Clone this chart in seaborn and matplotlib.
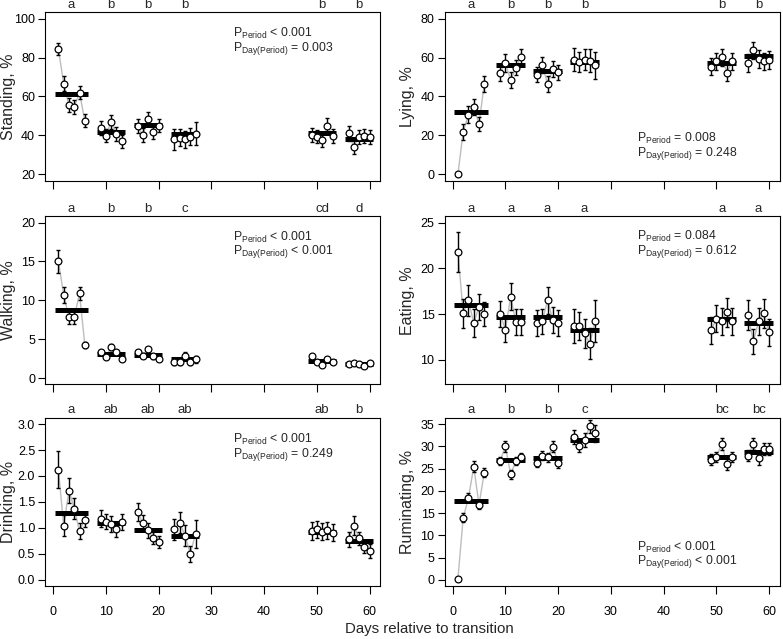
import matplotlib
matplotlib.use("Agg")
import matplotlib.pyplot as plt
import matplotlib.transforms as mtransforms
import seaborn as sns
import pandas as pd

# days of measurement and the period each day belongs to
days = [1, 2, 3, 4, 5, 6, 9, 10, 11, 12, 13, 16, 17, 18, 19, 20,
        23, 24, 25, 26, 27, 49, 50, 51, 52, 53, 56, 57, 58, 59, 60]
period = [1, 1, 1, 1, 1, 1, 2, 2, 2, 2, 2, 3, 3, 3, 3, 3,
          4, 4, 4, 4, 4, 5, 5, 5, 5, 5, 6, 6, 6, 6, 6]

standing = [84.4, 66.5, 55.4, 54.7, 61.9, 47.6,
            43.7, 39.9, 47.1, 40.8, 37.0,
            44.7, 40.2, 48.6, 41.9, 45.0,
            37.9, 38.9, 38.0, 39.4, 40.9,
            40.2, 39.4, 37.7, 44.9, 39.7,
            41.1, 34.2, 39.4, 39.7, 39.4]
standing_se = [3.1, 3.8, 3.6, 3.6, 3.3, 3.4,
               3.5, 3.5, 3.6, 3.5, 3.4,
               3.5, 3.5, 3.6, 3.5, 3.5,
               5.2, 4.5, 4.5, 4.5, 6.0,
               3.5, 3.5, 3.6, 3.8, 3.6,
               3.9, 3.6, 3.6, 3.8, 3.6]
standing_period = [61.2, 42.0, 45.1, 40.9, 41.1, 38.0]
standing_letters = ["a", "b", "b", "b", "b", "b"]

lying = [0.0, 21.8, 30.7, 34.7, 25.9, 46.5,
         52.0, 57.2, 48.4, 54.9, 60.3,
         51.2, 56.3, 46.4, 54.2, 52.4,
         58.9, 57.7, 58.9, 58.4, 56.1,
         55.4, 58.0, 60.1, 52.3, 58.0,
         57.2, 63.7, 59.2, 58.0, 58.8]
lying_se = [0.0, 4.0, 4.3, 4.2, 3.5, 4.1,
            4.2, 4.4, 4.0, 4.0, 4.0,
            4.0, 4.0, 4.0, 4.0, 4.0,
            6.0, 5.0, 5.5, 6.0, 7.0,
            4.5, 4.5, 4.5, 4.5, 4.5,
            4.5, 4.5, 4.5, 4.5, 4.5]
lying_period = [31.9, 56.3, 53.0, 57.7, 57.2, 60.9]
lying_letters = ["a", "b", "b", "b", "b", "b"]

walking = [15.0, 10.7, 7.8, 7.8, 10.9, 4.3,
           3.3, 2.7, 4.0, 3.3, 2.5,
           3.3, 2.9, 3.7, 2.8, 2.5,
           2.1, 2.1, 2.8, 2.1, 2.4,
           2.8, 2.1, 1.75, 2.4, 2.1,
           1.8, 1.95, 1.8, 1.6, 2.0]
walking_se = [1.5, 1.0, 0.8, 0.8, 0.8, 0.4,
              0.3, 0.3, 0.35, 0.3, 0.3,
              0.3, 0.3, 0.35, 0.3, 0.3,
              0.45, 0.4, 0.5, 0.45, 0.5,
              0.3, 0.25, 0.25, 0.25, 0.25,
              0.2, 0.2, 0.2, 0.2, 0.2]
walking_period = [8.76, 3.1, 3.0, 2.45, 2.25, 1.85]
walking_letters = ["a", "b", "b", "c", "cd", "d"]

eating = [21.8, 15.1, 16.5, 14.0, 15.8, 15.0,
          15.0, 13.3, 16.9, 14.1, 14.1,
          14.0, 14.2, 16.5, 14.35, 14.0,
          13.7, 13.7, 12.9, 11.75, 14.2,
          13.2, 14.5, 14.2, 15.2, 14.2,
          14.9, 12.0, 14.2, 15.1, 13.0]
eating_se = [2.2, 1.6, 1.7, 1.5, 1.4, 1.3,
             1.4, 1.4, 1.5, 1.4, 1.4,
             1.4, 1.4, 1.5, 1.4, 1.4,
             1.9, 1.5, 1.6, 1.7, 2.3,
             1.5, 1.5, 1.5, 1.6, 1.5,
             1.6, 1.4, 1.5, 1.6, 1.5]
eating_period = [15.95, 14.65, 14.65, 13.3, 14.5, 14.07]
eating_letters = ["a", "a", "a", "a", "a", "a"]

drinking = [2.12, 1.04, 1.72, 1.37, 0.94, 1.16,
            1.18, 1.12, 1.07, 0.97, 1.11,
            1.31, 1.09, 0.95, 0.80, 0.73,
            0.97, 1.10, 0.85, 0.50, 0.89,
            0.94, 0.97, 0.93, 0.95, 0.91,
            0.78, 1.04, 0.80, 0.63, 0.55]
drinking_se = [0.36, 0.2, 0.25, 0.2, 0.15, 0.15,
               0.16, 0.15, 0.15, 0.15, 0.15,
               0.17, 0.15, 0.15, 0.12, 0.12,
               0.2, 0.2, 0.2, 0.15, 0.27,
               0.17, 0.17, 0.17, 0.17, 0.17,
               0.15, 0.18, 0.13, 0.12, 0.13]
drinking_period = [1.29, 1.09, 0.96, 0.85, 0.93, 0.74]
drinking_letters = ["a", "ab", "ab", "ab", "ab", "b"]

ruminating = [0.2, 13.9, 18.4, 25.4, 16.9, 24.1,
              26.7, 30.0, 23.7, 26.7, 27.6,
              26.3, 27.9, 27.5, 29.9, 26.3,
              32.1, 30.1, 31.4, 34.5, 32.9,
              27.0, 27.6, 30.5, 26.0, 27.6,
              27.9, 30.5, 27.3, 29.4, 29.4]
ruminating_se = [0.0, 1.0, 1.0, 1.2, 1.0, 1.0,
                 1.0, 1.2, 1.0, 1.0, 1.0,
                 1.0, 1.0, 1.0, 1.2, 1.1,
                 1.5, 1.3, 1.5, 1.5, 2.0,
                 1.2, 1.2, 1.4, 1.3, 1.2,
                 1.3, 1.4, 1.4, 1.3, 1.3]
ruminating_period = [17.6, 26.9, 27.3, 31.5, 27.5, 28.8]
ruminating_letters = ["a", "b", "b", "c", "bc", "bc"]

p_texts = {
    "Standing": ("< 0.001", "= 0.003"),
    "Lying": ("= 0.008", "= 0.248"),
    "Walking": ("< 0.001", "< 0.001"),
    "Eating": ("= 0.084", "= 0.612"),
    "Drinking": ("< 0.001", "= 0.249"),
    "Ruminating": ("< 0.001", "< 0.001"),
}

panels = [
    ("Standing", standing, standing_se, standing_period, standing_letters),
    ("Lying", lying, lying_se, lying_period, lying_letters),
    ("Walking", walking, walking_se, walking_period, walking_letters),
    ("Eating", eating, eating_se, eating_period, eating_letters),
    ("Drinking", drinking, drinking_se, drinking_period, drinking_letters),
    ("Ruminating", ruminating, ruminating_se, ruminating_period, ruminating_letters),
]

# layout: axes boxes, y ranges and where the P text sits
lefts = [0.0581, 0.5683]
width = 0.4275
bottoms = [0.7175, 0.3985, 0.0830]
height = 0.2630
yticks = {
    "Standing": [20, 40, 60, 80, 100],
    "Lying": [0, 20, 40, 60, 80],
    "Walking": [0, 5, 10, 15, 20],
    "Eating": [10, 15, 20, 25],
    "Drinking": [0.0, 0.5, 1.0, 1.5, 2.0, 2.5, 3.0],
    "Ruminating": [0, 5, 10, 15, 20, 25, 30, 35],
}
ylims = {
    "Standing": (16.8, 103.2),
    "Lying": (-3.2, 83.2),
    "Walking": (-0.8, 20.8),
    "Eating": (7.3, 25.7),
    "Drinking": (-0.12, 3.12),
    "Ruminating": (-1.4, 36.4),
}
p_pos = {
    "Standing": (0.56, 0.875, 0.785),
    "Lying": (0.575, 0.25, 0.163),
    "Walking": (0.56, 0.875, 0.788),
    "Eating": (0.575, 0.88, 0.79),
    "Drinking": (0.56, 0.87, 0.78),
    "Ruminating": (0.575, 0.23, 0.143),
}

sns.set_theme(style="ticks")
plt.rcParams["font.family"] = ["Liberation Sans", "DejaVu Sans"]
plt.rcParams["mathtext.default"] = "regular"
plt.rcParams["mathtext.fontset"] = "custom"
plt.rcParams["mathtext.rm"] = "Liberation Sans"

fig = plt.figure(figsize=(7.83, 6.39), dpi=100)

for i, (name, vals, se, pmeans, letters) in enumerate(panels):
    row, col = divmod(i, 2)
    ax = fig.add_axes([lefts[col], bottoms[row], width, height])
    df = pd.DataFrame({"day": days, "period": period, "value": vals, "se": se})

    # grey lines joining days within a period
    sns.lineplot(data=df, x="day", y="value", units="period", estimator=None,
                 color="#bdbdbd", linewidth=1.0, ax=ax, zorder=1)
    ax.errorbar(df["day"], df["value"], yerr=df["se"], fmt="none",
                ecolor="black", elinewidth=1.0, capsize=1.4, capthick=1.0, zorder=2)

    # period means as thick bars
    grp = df.groupby("period")["day"]
    first, last = grp.min(), grp.max()
    for k, p in enumerate(sorted(df["period"].unique())):
        ax.hlines(pmeans[k], first[p] - 0.7, last[p] + 0.7, color="black",
                  linewidth=3.6, zorder=3)
    sns.scatterplot(data=df, x="day", y="value", marker="o", s=24,
                    facecolor="white", edgecolor="black", linewidth=0.9,
                    ax=ax, zorder=4)

    # significance letters above the box
    trans = mtransforms.blended_transform_factory(ax.transData, ax.transAxes)
    for k, p in enumerate(sorted(df["period"].unique())):
        ax.text((first[p] + last[p]) / 2, 1.045, letters[k], transform=trans,
                ha="center", va="center", fontsize=9.5, clip_on=False)

    a, b = p_texts[name]
    px, py1, py2 = p_pos[name]
    ax.text(px, py1, r"P$_{\mathregular{Period}}$ " + a, transform=ax.transAxes,
            ha="left", va="center", fontsize=8.8)
    ax.text(px, py2, r"P$_{\mathregular{Day(Period)}}$ " + b, transform=ax.transAxes,
            ha="left", va="center", fontsize=8.8)

    ax.set_xlim(-1.45, 62.0)
    ax.set_ylim(*ylims[name])
    ax.set_xticks([0, 10, 20, 30, 40, 50, 60])
    ax.set_yticks(yticks[name])
    if row < 2:
        ax.set_xticklabels([])
    ax.set_xlabel("")
    ax.set_ylabel(f"{name}, %", fontsize=11.5)
    ax.yaxis.set_label_coords(-0.112, 0.5)
    ax.yaxis.label.set_va("center")
    ax.tick_params(direction="out", length=5, width=0.8, labelsize=9,
                   pad=2.5, colors="black")
    ax.tick_params(axis="x", length=5.5, pad=9)
    for sp in ax.spines.values():
        sp.set_linewidth(0.8)
        sp.set_color("black")

fig.text(0.548, 0.0156, "Days relative to transition", ha="center", va="center",
         fontsize=10.8)

fig.savefig("out.png", dpi=100)
